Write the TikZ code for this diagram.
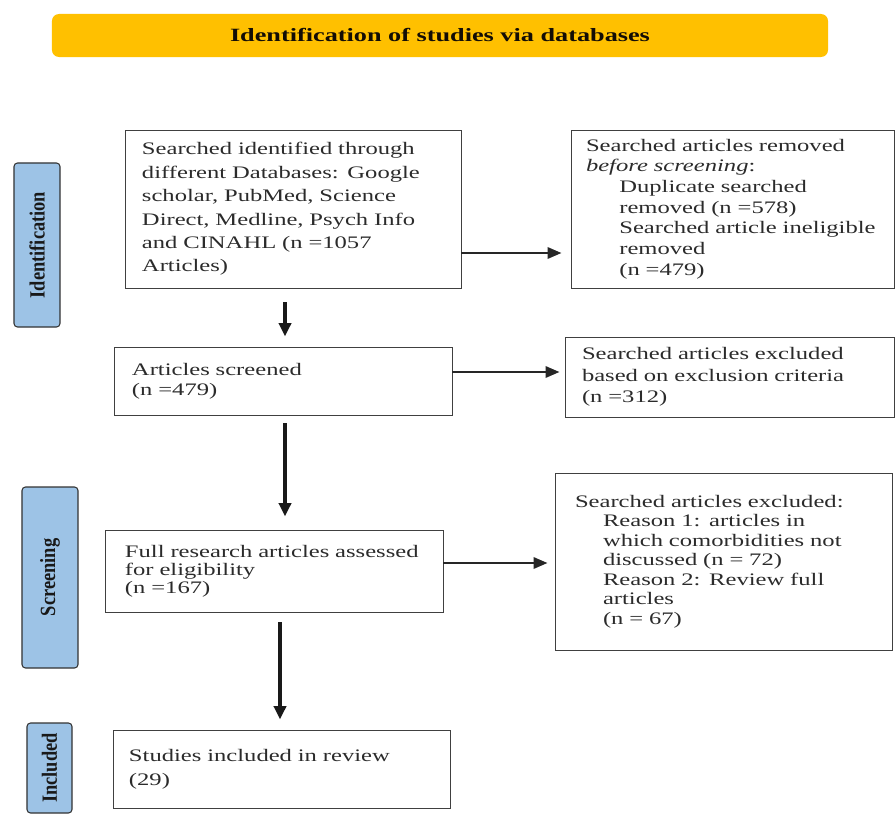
\documentclass[tikz,border=0pt]{standalone}
\usepackage{fontspec}
\setmainfont{Liberation Serif}[FakeStretch=1.4]
\newfontfamily\sidefont{Liberation Serif}[FakeStretch=0.85]
\usetikzlibrary{positioning,arrows.meta}
\definecolor{banner}{HTML}{FFC000}
\definecolor{phase}{HTML}{9DC3E6}
\definecolor{ink}{HTML}{2B2B2B}
\newcommand{\ind}[1][1cm]{\hspace*{#1}}

\begin{document}
\begin{tikzpicture}[
    x=0.03cm, y=-0.03cm,
    every node/.style={text=ink},
    stage/.style={
        rectangle, draw=black!75, line width=0.8pt, align=left,
        inner xsep=0.5cm, font=\fontsize{15}{18}\selectfont
    },
    phasebar/.style={
        rectangle, rounded corners=3pt, draw=black!80, line width=0.9pt,
        fill=phase, rotate=90, text=black!90,
        font=\sidefont\bfseries\fontsize{18.5}{20}\selectfont
    },
    flow/.style={-{Triangle[length=0.4cm,width=0.36cm]}, line width=2.8pt, draw=black!90},
    side/.style={-{Triangle[length=0.42cm,width=0.34cm]}, line width=2pt, draw=black!85}
]
\useasboundingbox (0,0) rectangle (896,814);

% Banner and phase bars
\node[rectangle, rounded corners=6pt, fill=banner, minimum width=23.28cm, minimum height=1.29cm,
      text=black!90!brown, font=\bfseries\fontsize{16}{18}\selectfont]
      (title) at (440,35.5) {Identification of studies via databases};

\node[phasebar, minimum width=4.92cm, minimum height=1.38cm] (idbar)  at (37,245)    {Identification};
\node[phasebar, minimum width=5.43cm, minimum height=1.68cm] (scrbar) at (50,577.5)  {Screening};
\node[phasebar, minimum width=2.7cm,  minimum height=1.35cm] (incbar) at (49.5,768)  {Included};

% ── Left column ─────────────────────────────────────────────
\node[stage, text width=9.06cm, inner xsep=0.51cm, minimum height=4.74cm,
      font=\fontsize{15}{20}\selectfont] (search) at (293,209) {%
  Searched identified through\\
  different Databases: Google\\
  scholar, PubMed, Science\\
  Direct, Medline, Psych Info\\
  and CINAHL (n =1057\\
  Articles)};
\node[stage, text width=9.06cm, inner xsep=0.54cm, minimum height=2.04cm,
      font=\fontsize{15}{17}\selectfont] (screened) at (283,381) {%
  Articles screened\\
  (n =479)};
\node[stage, text width=8.94cm, inner xsep=0.6cm, minimum height=2.46cm,
      font=\fontsize{15}{15.5}\selectfont] (full) at (274,571) {%
  Full research articles assessed\\
  for eligibility\\
  (n =167)};
\node[stage, text width=9.15cm, inner xsep=0.48cm, minimum height=2.34cm,
      font=\fontsize{15}{20.4}\selectfont] (incl) at (281.5,769) {%
  Studies included in review\\
  (29)};

% ── Right column ────────────────────────────────────────────
\node[stage, text width=8.79cm, inner xsep=0.45cm, minimum height=4.74cm,
      font=\fontsize{15}{17.6}\selectfont] (removed) at (732.5,209) {%
  Searched articles removed\\
  \textit{before screening}:\\
  \ind Duplicate searched\\
  \ind removed (n =578)\\
  \ind Searched article ineligible\\
  \ind removed\\
  \ind (n =479)};
\node[stage, text width=8.85cm, inner xsep=0.51cm, minimum height=2.4cm,
      font=\fontsize{15}{18.3}\selectfont] (excl) at (729.5,377) {%
  Searched articles excluded\\
  based on exclusion criteria\\
  (n =312)};
\node[stage, text width=8.91cm, inner xsep=0.6cm, minimum height=5.31cm,
      font=\fontsize{15}{16.6}\selectfont] (reasons) at (723.5,561.5) {%
  Searched articles excluded:\\
  \ind[0.84cm]Reason 1: articles in\\
  \ind[0.84cm]which comorbidities not\\
  \ind[0.84cm]discussed (n = 72)\\
  \ind[0.84cm]Reason 2: Review full\\
  \ind[0.84cm]articles\\
  \ind[0.84cm](n = 67)};

% ── Flow arrows ─────────────────────────────────────────────
\draw[flow, shorten <=0.42cm, shorten >=0.3cm] (search.south -| 285,0) -- (screened.north -| 285,0);
\draw[flow, shorten <=0.24cm, shorten >=0.39cm] (screened.south -| 285,0) -- (full.north -| 285,0);
\draw[flow, shorten <=0.3cm, shorten >=0.3cm] (full.south -| 280,0) -- (incl.north -| 280,0);

\draw[side, shorten >=0.27cm] (search.east |- 0,253) -- (removed.west |- 0,253);
\draw[side, shorten >=0.15cm] (screened.east |- 0,372) -- (excl.west |- 0,372);
\draw[side, shorten >=0.21cm] (full.east |- 0,563) -- (reasons.west |- 0,563);

\end{tikzpicture}
\end{document}
